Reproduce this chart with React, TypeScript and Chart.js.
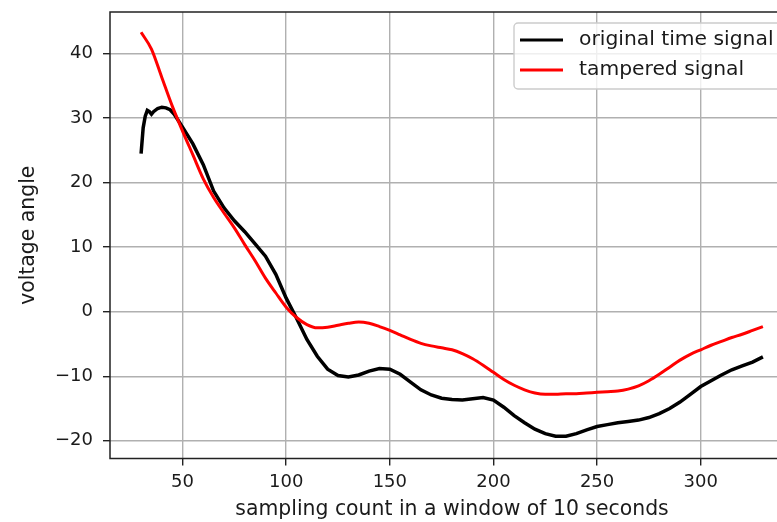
import React, { useEffect, useRef } from "react";
import { Chart, registerables } from "chart.js";

Chart.register(...registerables);

// ---- data ----
const xTicks = [50, 100, 150, 200, 250, 300];
const yTicks = [-20, -10, 0, 10, 20, 30, 40];

const seriesLabels = ["original time signal", "tampered signal"];
const xTitle = "sampling count in a window of 10 seconds";
const yTitle = "voltage angle";

const originalX = [
  30, 31, 32, 33, 34, 35, 36, 38, 40, 42, 44, 46, 48, 50, 55, 60, 65, 70, 75, 80,
  85, 90, 95, 100, 105, 110, 115, 120, 125, 130, 135, 140, 145, 150, 155, 160,
  165, 170, 175, 180, 185, 190, 195, 200, 205, 210, 215, 220, 225, 230, 235,
  240, 245, 250, 255, 260, 265, 270, 275, 280, 285, 290, 295, 300, 305, 310,
  315, 320, 325, 330,
];
const originalY = [
  24.5, 28.5, 30.3, 31.2, 31.0, 30.6, 31.0, 31.5, 31.7, 31.6, 31.3, 30.6, 29.6,
  28.6, 26.0, 22.8, 18.7, 16.1, 14.1, 12.4, 10.5, 8.6, 5.8, 2.1, -1.0, -4.3,
  -6.9, -8.9, -9.9, -10.1, -9.8, -9.2, -8.8, -8.9, -9.7, -10.9, -12.1, -12.9,
  -13.4, -13.6, -13.7, -13.5, -13.3, -13.7, -14.8, -16.1, -17.2, -18.2, -18.9,
  -19.3, -19.3, -18.9, -18.3, -17.8, -17.5, -17.2, -17.0, -16.8, -16.4, -15.8,
  -15.0, -14.0, -12.8, -11.6, -10.7, -9.8, -9.0, -8.4, -7.8, -7.0,
];

const tamperedX = [
  30, 35, 40, 45, 50, 55, 60, 65, 70, 75, 80, 85, 90, 95, 100, 105, 110, 115,
  120, 125, 130, 135, 140, 145, 150, 155, 160, 165, 170, 175, 180, 185, 190,
  195, 200, 205, 210, 215, 220, 225, 230, 235, 240, 245, 250, 255, 260, 265,
  270, 275, 280, 285, 290, 295, 300, 305, 310, 315, 320, 325, 330,
];
const tamperedY = [
  43.3, 40.7, 36.3, 31.9, 28.0, 24.3, 20.6, 17.7, 15.3, 13.0, 10.4, 7.9, 5.2,
  2.9, 0.7, -0.9, -2.0, -2.5, -2.4, -2.1, -1.8, -1.6, -1.8, -2.3, -2.9, -3.6,
  -4.3, -4.9, -5.3, -5.6, -5.9, -6.5, -7.3, -8.3, -9.4, -10.5, -11.4, -12.1,
  -12.6, -12.8, -12.8, -12.7, -12.7, -12.6, -12.5, -12.4, -12.3, -12.0, -11.5,
  -10.7, -9.7, -8.6, -7.5, -6.6, -5.9, -5.2, -4.6, -4.0, -3.5, -2.9, -2.3,
];

const seriesColors = ["#000000", "#ff0000"];

const FONT = "'DejaVu Sans', 'Liberation Sans', sans-serif";
const TEXT = "#1a1a1a";
const W = 830;
const H = 522;

const fmt = (v: number) => (v < 0 ? "\u2212" + Math.abs(v) : String(v));

const framePlugin = {
  id: "frame",
  afterDatasetsDraw(chart: any) {
    const { ctx, chartArea } = chart;
    const { left, right, top, bottom } = chartArea;
    ctx.save();
    ctx.strokeStyle = "#222";
    ctx.lineWidth = 1.5;
    ctx.strokeRect(left, top, right - left, bottom - top);
    ctx.restore();
  },
};

const legendPlugin = {
  id: "mplLegend",
  afterDraw(chart: any) {
    const { ctx, chartArea } = chart;
    const boxRight = chartArea.right - 9;
    const boxLeft = 514;
    const boxTop = chartArea.top + 11;
    const boxBottom = boxTop + 66;
    ctx.save();
    ctx.beginPath();
    ctx.roundRect(boxLeft, boxTop, boxRight - boxLeft, boxBottom - boxTop, 4);
    ctx.fillStyle = "rgba(255,255,255,0.8)";
    ctx.fill();
    ctx.strokeStyle = "#cccccc";
    ctx.lineWidth = 1.4;
    ctx.stroke();
    ctx.font = `20.3px ${FONT}`;
    ctx.textBaseline = "middle";
    ctx.textAlign = "left";
    seriesLabels.forEach((label, i) => {
      const y = boxTop + 17 + i * 30;
      ctx.beginPath();
      ctx.moveTo(boxLeft + 6, y);
      ctx.lineTo(boxLeft + 49, y);
      ctx.strokeStyle = seriesColors[i];
      ctx.lineWidth = 3;
      ctx.stroke();
      ctx.fillStyle = TEXT;
      ctx.fillText(label, boxLeft + 65, y);
    });
    ctx.restore();
  },
};

export default function App() {
  const ref = useRef<HTMLCanvasElement | null>(null);

  useEffect(() => {
    if (!ref.current) return;
    const chart = new Chart(ref.current, {
      type: "line",
      data: {
        datasets: [
          {
            label: seriesLabels[0],
            data: originalX.map((x, i) => ({ x, y: originalY[i] })),
            borderColor: seriesColors[0],
            borderWidth: 3.5,
            pointRadius: 0,
            tension: 0,
            order: 1,
          },
          {
            label: seriesLabels[1],
            data: tamperedX.map((x, i) => ({ x, y: tamperedY[i] })),
            borderColor: seriesColors[1],
            borderWidth: 3,
            pointRadius: 0,
            cubicInterpolationMode: "monotone",
            order: 0,
          },
        ],
      },
      options: {
        animation: false,
        responsive: false,
        events: [],
        layout: { padding: { left: 0, top: 12, right: W - 794, bottom: 0 } },
        plugins: {
          legend: { display: false },
          tooltip: { enabled: false },
          title: { display: false },
        },
        scales: {
          x: {
            type: "linear",
            min: 15,
            max: 345,
            afterBuildTicks: (s: any) => {
              s.ticks = xTicks.map((v) => ({ value: v }));
            },
            afterFit: (s: any) => {
              s.height = 63.5;
              s.paddingLeft = 0;
              s.paddingRight = 0;
            },
            border: { display: false },
            grid: {
              color: "#b0b0b0",
              lineWidth: 1.4,
              drawTicks: true,
              tickLength: 7,
              tickColor: "#222",
              tickWidth: 1.4,
            },
            ticks: {
              font: { family: FONT, size: 18 },
              color: TEXT,
              padding: 6,
              maxRotation: 0,
              autoSkip: false,
              callback: (v: any) => fmt(Number(v)),
            },
            title: {
              display: true,
              text: xTitle,
              font: { family: FONT, size: 20.4 },
              color: TEXT,
              padding: { top: 0, bottom: 0 },
            },
          },
          y: {
            type: "linear",
            min: -22.75,
            max: 46.45,
            afterBuildTicks: (s: any) => {
              s.ticks = yTicks.map((v) => ({ value: v }));
            },
            afterFit: (s: any) => {
              s.width = 110;
              s.paddingTop = 0;
              s.paddingBottom = 0;
            },
            border: { display: false },
            grid: {
              color: "#b0b0b0",
              lineWidth: 1.4,
              drawTicks: true,
              tickLength: 7,
              tickColor: "#222",
              tickWidth: 1.4,
            },
            ticks: {
              font: { family: FONT, size: 18 },
              color: TEXT,
              padding: 10,
              autoSkip: false,
              callback: (v: any) => fmt(Number(v)),
            },
            title: {
              display: true,
              text: yTitle,
              font: { family: FONT, size: 20.4 },
              color: TEXT,
              padding: { top: 16, bottom: 0 },
            },
          },
        },
      } as any,
      plugins: [framePlugin, legendPlugin],
    });
    return () => chart.destroy();
  }, []);

  return (
    <div
      style={{
        position: "fixed",
        left: 0,
        top: 0,
        width: 777,
        height: 522,
        overflow: "hidden",
        background: "#fff",
      }}
    >
      <canvas ref={ref} width={W} height={H} style={{ display: "block", width: W, height: H }} />
    </div>
  );
}
